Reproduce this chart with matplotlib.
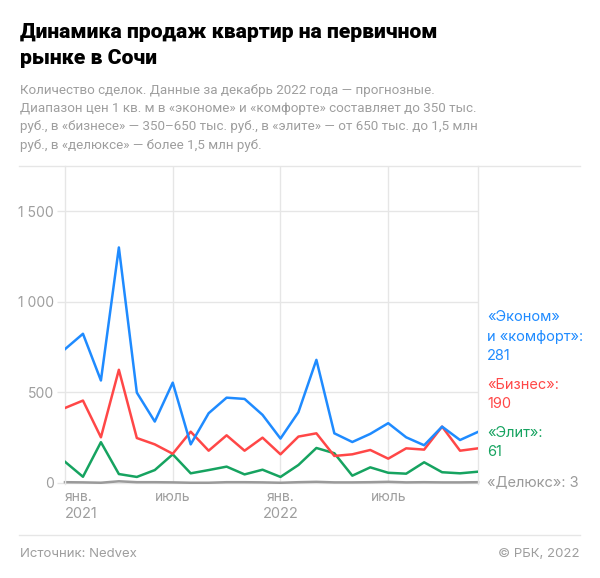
import matplotlib
matplotlib.use('Agg')
import matplotlib.pyplot as plt
from matplotlib.lines import Line2D
import matplotlib.transforms as mtransforms

W, H = 600, 578

# monthly deals, Jan 2021 .. Dec 2022
months = list(range(24))
econom = [738, 823, 565, 1300, 498, 338, 553, 212, 384, 470, 463, 375,
          244, 390, 679, 273, 225, 270, 329, 251, 207, 310, 236, 281]
business = [413, 454, 251, 624, 247, 212, 160, 282, 177, 262, 177, 249,
            157, 255, 273, 148, 157, 181, 133, 190, 183, 310, 177, 190]
elite = [116, 33, 224, 48, 32, 70, 157, 52, 70, 89, 46, 72,
         32, 98, 192, 163, 39, 85, 55, 50, 113, 58, 52, 61]
deluxe = [3, 2, 0, 8, 3, 3, 2, 0, 0, 3, 3, 2,
          0, 3, 5, 2, 2, 3, 5, 2, 3, 2, 2, 3]

xtick_pos = [0, 6, 12, 18]
xtick_month = ['янв.', 'июль', 'янв.', 'июль']
year_pos = [0, 12]
year_labels = ['2021', '2022']
yticks = [0, 500, 1000, 1500]
ytick_labels = ['0', '500', '1 000', '1 500']

BLUE = '#1f8bff'
RED = '#ff4747'
GREEN = '#16a360'
GREY = '#9a9a9a'
GRID = '#e6e6e6'
TXT = '#9e9e9e'

plt.rcParams['font.family'] = ['Inter', 'DejaVu Sans']

fig = plt.figure(figsize=(W / 100, H / 100), dpi=100)


def fx(x):
    return x / W


def fy(y):
    return 1 - y / H


ax_l, ax_r, ax_t, ax_b = 65, 478, 166, 484
ax = fig.add_axes([fx(ax_l), fy(ax_b), (ax_r - ax_l) / W, (ax_b - ax_t) / H])
ax.set_xlim(0, 23)
ax.set_ylim(-7, 1750)

for s in ['top', 'bottom']:
    ax.spines[s].set_visible(False)
for s in ['left', 'right']:
    ax.spines[s].set_color(GRID)
    ax.spines[s].set_linewidth(1)

# grid
ax.hlines(yticks, -0.45, 23, color=GRID, lw=1, clip_on=False, zorder=0)
ax.vlines(xtick_pos[1:], -7, 1750, color=GRID, lw=1, zorder=0)

ax.plot(months, deluxe, color=GREY, lw=1.8, zorder=2, clip_on=False)
ax.plot(months, elite, color=GREEN, lw=1.8, zorder=3)
ax.plot(months, business, color=RED, lw=1.8, zorder=4)
ax.plot(months, econom, color=BLUE, lw=1.8, zorder=5)

ax.set_yticks(yticks)
ax.set_yticklabels(ytick_labels)
ax.tick_params(axis='y', length=0, pad=8, labelsize=10, labelcolor=TXT)
ax.set_xticks([])

xform = ax.get_xaxis_transform()
for i, (p, m) in enumerate(zip(xtick_pos, xtick_month)):
    ha = 'left' if i == 0 else 'center'
    ax.text(p, 0, m, transform=xform + mtransforms.ScaledTranslation(0, -13 / 100, fig.dpi_scale_trans),
            ha=ha, va='center', fontsize=10, color=TXT)
for p, yl in zip(year_pos, year_labels):
    ha = 'left' if p == 0 else 'center'
    ax.text(p, 0, yl, transform=xform + mtransforms.ScaledTranslation(0, -30 / 100, fig.dpi_scale_trans),
            ha=ha, va='center', fontsize=10.5, color=TXT)

# title and subtitle
title_font = ['Roboto', 'DejaVu Sans']
fig.text(fx(20), fy(37.5), 'Динамика продаж квартир на первичном', fontsize=15.2,
         fontweight='black', color='black', va='baseline', family=title_font)
fig.text(fx(20), fy(63.5), 'рынке в Сочи', fontsize=15.2,
         fontweight='black', color='black', va='baseline', family=title_font)
sub = ['Количество сделок. Данные за декабрь 2022 года — прогнозные.',
       'Диапазон цен 1 кв. м в «экономе» и «комфорте» составляет до 350 тыс.',
       'руб., в «бизнесе» — 350–650 тыс. руб., в «элите» — от 650 тыс. до 1,5 млн',
       'руб., в «делюксе» — более 1,5 млн руб.']
for i, line in enumerate(sub):
    fig.text(fx(20), fy(94 + 18.2 * i), line, fontsize=9.6, color=TXT, va='baseline',
             family=['Roboto', 'DejaVu Sans'])

# separators
fig.add_artist(Line2D([fx(19), fx(580)], [fy(166), fy(166)], color=GRID, lw=1))
fig.add_artist(Line2D([fx(19), fx(580)], [fy(535), fy(535)], color=GRID, lw=1))

# right labels
labels = [(317, '«Эконом»', BLUE), (337, 'и «комфорт»:', BLUE), (356, '281', BLUE),
          (385, '«Бизнес»:', RED), (404, '190', RED),
          (433, '«Элит»:', GREEN), (452, '61', GREEN),
          (482, '«Делюкс»: 3', GREY)]
for y, t, c in labels:
    fig.text(fx(487), fy(y), t, fontsize=10.5, color=c, va='center')

fig.text(fx(20), fy(554), 'Источник: Nedvex', fontsize=9.5, color=TXT, va='center')
fig.text(fx(580), fy(554), '© РБК, 2022', fontsize=9.5, color=TXT, va='center', ha='right')

fig.savefig('out.png', dpi=100)
